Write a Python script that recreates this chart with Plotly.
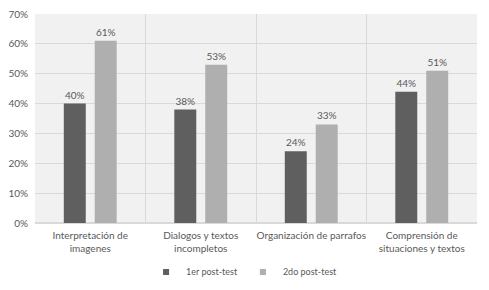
import plotly.graph_objects as go

categories = ["Interpretación de<br>imagenes", "Dialogos y textos<br>incompletos",
              "Organización de parrafos", "Comprensión de<br>situaciones y textos"]
series_names = ["1er post-test", "2do post-test"]
post1 = [0.40, 0.38, 0.24, 0.44]
post2 = [0.61, 0.53, 0.33, 0.51]
y_ticks = [0, 0.1, 0.2, 0.3, 0.4, 0.5, 0.6, 0.7]
colors = ["#5f5f5f", "#afafaf"]

FONT = "Lato, Carlito, 'Open Sans', sans-serif"
TXT = "#595959"

fig = go.Figure()
for name, vals, col in zip(series_names, [post1, post2], colors):
    fig.add_trace(go.Bar(
        x=categories, y=vals, name=name, marker=dict(color=col, line=dict(width=0)),
        text=[f"{round(v*100)}%" for v in vals], textposition="outside",
        textfont=dict(size=10, color=TXT, family=FONT), cliponaxis=False,
        showlegend=False,
    ))
for name, col in zip(series_names, colors):
    fig.add_trace(go.Scatter(
        x=[None], y=[None], mode="markers", name=name,
        marker=dict(symbol="square", size=6, color=col), showlegend=True,
    ))

# page has an 8px body margin, so the figure is shrunk and shifted accordingly
fig.update_layout(
    width=481, height=282,
    margin=dict(l=27, r=12, t=6, b=67, autoexpand=False),
    paper_bgcolor="white", plot_bgcolor="#f1f1f1",
    barmode="group", bargap=0.44, bargroupgap=0.29,
    font=dict(family=FONT, size=10, color=TXT),
    showlegend=True,
    legend=dict(orientation="h", x=0.473, xanchor="center", y=-0.234, yanchor="middle",
                font=dict(size=9, color=TXT), itemwidth=30, traceorder="normal"),
    xaxis=dict(showgrid=True, gridcolor="#d9d9d9", tickson="boundaries", ticks="",
               tickangle=0, automargin=False, ticklabelstandoff=5,
               tickfont=dict(size=10, color=TXT), showline=False, mirror=False),
    yaxis=dict(range=[0, 0.7], tickvals=y_ticks, tickformat=".0%", showgrid=True,
               gridcolor="#d9d9d9", zeroline=True, zerolinecolor="#d9d9d9", automargin=False,
               ticklabelstandoff=6, ticklabeloverflow="allow",
               tickfont=dict(size=10, color=TXT), ticks="", showline=False),
)
fig.write_html("out.html")
